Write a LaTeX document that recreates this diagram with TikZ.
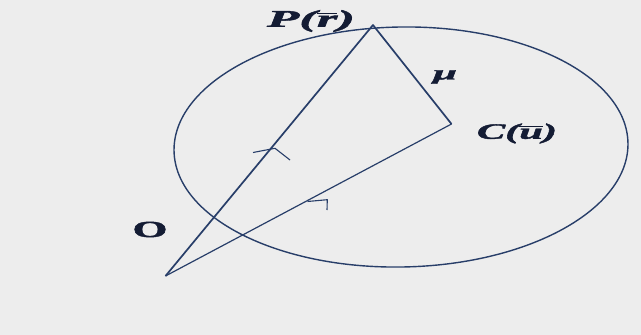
\documentclass[tikz,border=0pt]{standalone}
\usepackage{fontspec}
\setmainfont{Liberation Serif}[BoldItalicFeatures={FakeBold=1.5},BoldFeatures={FakeBold=1.5}]
\definecolor{bg}{RGB}{237,237,237}
\definecolor{ln}{RGB}{40,62,105}
\definecolor{tx}{RGB}{20,28,52}
\newcommand{\fitw}[2]{\resizebox{#1}{\height}{#2}}
\newcommand{\ovl}[1]{\vbox{\hrule height 1.4pt\kern1.3pt\hbox{#1}}}
\tikzset{
  lbl/.style={text=tx,inner sep=0pt},
  thick line/.style={draw=ln,line width=1.7pt,line join=round},
  thin line/.style={draw=ln,line width=1.2pt,line join=round},
  tick mark/.style={draw=ln,line width=1.1pt,line join=round}
}
\begin{document}
\begin{tikzpicture}[x=1pt,y=-1pt]
\useasboundingbox (0,0) rectangle (641,335);
\fill[bg] (0,0) rectangle (641,335);
% circle seen in perspective
\draw[ln,line width=1.4pt,rotate around={1:(401,147)}] (401,147) ellipse [x radius=227pt, y radius=120pt];
% points
\coordinate (O) at (165.5,276);
\coordinate (P) at (373,25);
\coordinate (C) at (451.5,124);
% lines
\draw[thick line] (O) -- (P) -- (C);
\draw[thin line] (O) -- (C);
% direction marks
\coordinate (m1a) at (253,152.5);
\coordinate (m1b) at (275,148.3);
\coordinate (m1c) at (290,160);
\draw[tick mark] (m1a) -- (m1b) -- (m1c);
\coordinate (m2a) at (307.5,201.5);
\coordinate (m2b) at (327.3,199.7);
\coordinate (m2c) at (327,210);
\draw[tick mark] (m2a) -- (m2b) -- (m2c);
% labels
\node[lbl,font=\fontsize{24}{26}\selectfont\bfseries\itshape] (lP) at (311,21) {\fitw{88pt}{P(\ovl{r})}};
\node[lbl,font=\fontsize{20}{22}\selectfont\bfseries\itshape] (lmu) at (445,77) {\fitw{24pt}{μ}};
\node[lbl,font=\fontsize{22}{24}\selectfont\bfseries\itshape] (lC) at (517,133.5) {\fitw{80pt}{C(\ovl{u})}};
\node[lbl,font=\fontsize{23}{25}\selectfont\bfseries] (lO) at (150,229.5) {\fitw{35pt}{O}};
\end{tikzpicture}
\end{document}
